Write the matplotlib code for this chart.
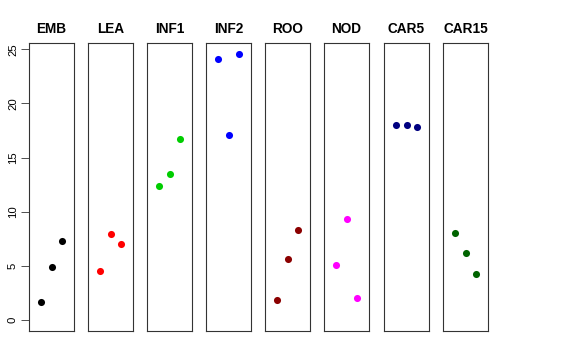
import numpy as np
import matplotlib
matplotlib.use('Agg')
import matplotlib.pyplot as plt

plt.rcParams['font.family'] = ['Liberation Sans', 'DejaVu Sans']

# Tissue panels and their three replicate values
tissues = ['EMB', 'LEA', 'INF1', 'INF2', 'ROO', 'NOD', 'CAR5', 'CAR15']
colors = ['black', 'red', '#00CD00', 'blue', '#8B0000', 'magenta', '#000080', '#006400']
emb = [1.7, 4.9, 7.3]
lea = [4.5, 7.9, 7.0]
inf1 = [12.4, 13.5, 16.7]
inf2 = [24.1, 17.1, 24.6]
roo = [1.8, 5.6, 8.3]
nod = [5.1, 9.3, 2.0]
car5 = [18.0, 18.0, 17.8]
car15 = [8.0, 6.2, 4.2]
values = [emb, lea, inf1, inf2, roo, nod, car5, car15]
reps = [1, 2, 3]
yticks = [0, 5, 10, 15, 20, 25]

fig = plt.figure(figsize=(5.76, 3.6), dpi=100)
W, H = 576, 360
lefts = [29, 88, 147, 206, 265, 324, 384, 443]
top, bottom, width = 43, 331, 45

for i, (name, col, vals) in enumerate(zip(tissues, colors, values)):
    ax = fig.add_axes([lefts[i] / W, (H - bottom) / H, width / W, (bottom - top) / H])
    ax.scatter(reps, vals, s=26, color=col, zorder=3, linewidths=0)
    ax.set_xlim(-0.16, 4.16)
    ax.set_ylim(-1.02, 25.58)
    ax.set_xticks([])
    for sp in ax.spines.values():
        sp.set_linewidth(0.8)
        sp.set_color('#333333')
    ax.set_title(name, fontsize=9.8, fontweight='bold', pad=7)
    if i == 0:
        ax.set_yticks(yticks)
        ax.tick_params(axis='y', length=6, width=0.6, labelsize=8.2, pad=2,
                       colors='#333333', labelcolor='black')
        for lab in ax.get_yticklabels():
            lab.set_rotation(90)
            lab.set_va('center')
    else:
        ax.set_yticks([])

fig.savefig('out.png', dpi=100)
